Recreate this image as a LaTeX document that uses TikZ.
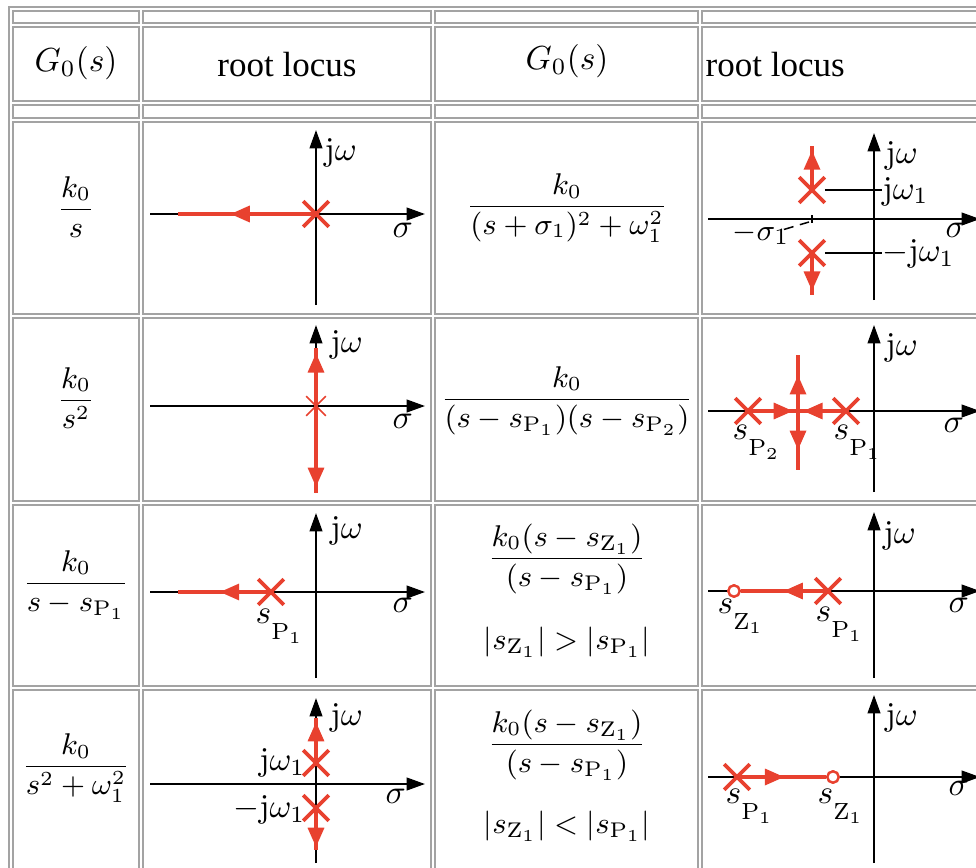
\documentclass[tikz,border=0pt]{standalone}
\usepackage{amsmath}
\usepackage{fontspec}
\usepackage{tikz}
\usetikzlibrary{arrows.meta, shapes.misc, decorations.markings, calc}
\newfontfamily\headfont{Liberation Serif}
\definecolor{locusred}{HTML}{E8412F}
\newcommand{\sP}[1]{s_{\mathrm{P}_{#1}}}
\newcommand{\sZ}[1]{s_{\mathrm{Z}_{#1}}}
% plot labels: index letter hangs below the s
\newcommand{\lblP}[1]{$s\raisebox{-5pt}{$\scriptstyle\mathrm{P}_{#1}$}$}
\newcommand{\lblZ}[1]{$s\raisebox{-5pt}{$\scriptstyle\mathrm{Z}_{#1}$}$}

\begin{document}
\begin{tikzpicture}[
  x=0.3pt, y=-0.3pt,
  font=\normalsize,
  cellbox/.style={draw=gray!72, line width=0.85pt},
  axis/.style={black, line width=0.6pt, -{Triangle[length=5.5pt,width=3.8pt]}},
  guide/.style={black, line width=0.45pt},
  locus/.style={locusred, line width=1pt},
  flow/.style={postaction={decorate}, decoration={markings,
      mark=at position #1 with {\arrow{Triangle[length=5.8pt,width=4.8pt]}}}},
  pole/.style={cross out, draw=locusred, line width=1.1pt,
      minimum size=6.6pt, inner sep=0pt},
  dblpole/.style={pole, line width=0.5pt, minimum size=5.4pt},
  zero/.style={circle, draw=locusred, fill=white, line width=0.7pt,
      minimum size=3.4pt, inner sep=0pt},
  axlbl/.style={inner sep=0pt},
  entry/.style={align=center, inner sep=0pt, font=\fontsize{9.1}{11}\selectfont},
  headmath/.style={inner sep=0pt},
  head/.style={font=\headfont\fontsize{10.5}{12}\selectfont, inner sep=0pt},
]
\useasboundingbox (0,0) rectangle (976,868);

% ---- geometry (pixel grid, 0.3pt per px) ----
\def\axL{316}   % imaginary axis, left root-locus column
\def\axR{874}   % imaginary axis, right root-locus column

% =====================================================
% TABLE GRID: outer frame plus one box per cell
% =====================================================
\draw[cellbox] (9,7) rectangle (1020,930);
\foreach \xa/\xb in {13/139, 143/431, 435/698, 702/1010}
  \foreach \ya/\yb in {11/23, 27/101, 105/118, 122/314, 318/501, 505/686, 690/920}
    \draw[cellbox] (\xa,\ya) rectangle (\xb,\yb);

% =====================================================
% HEADER ROW
% =====================================================
\node[headmath] (hdGa) at (76,63) {$G_0(s)$};
\node[head] (hdLa) at (287,65) {root locus};
\node[headmath] (hdGb) at (567,61) {$G_0(s)$};
\node[head, anchor=west] (hdLb) at (705,65) {root locus};

% =====================================================
% TRANSFER FUNCTIONS
% =====================================================
\node[entry] (gA) at (76,207) {$\dfrac{k_0}{s}$};
\node[entry] (gB) at (76,398) {$\dfrac{k_0}{s^2}$};
\node[entry] (gC) at (76,585) {$\dfrac{k_0}{s-\sP1}$};
\node[entry] (gD) at (76,768) {$\dfrac{k_0}{s^2+\omega_1^2}$};

\node[entry] (gE) at (567,208) {$\dfrac{k_0}{(s+\sigma_1)^2+\omega_1^2}$};
\node[entry] (gF) at (567,401) {$\dfrac{k_0}{(s-\sP1)(s-\sP2)}$};
\node[entry] (gG) at (567,559) {$\dfrac{k_0(s-\sZ1)}{(s-\sP1)}$};
\node[entry] (gGc) at (567,642) {$|\sZ1|>|\sP1|$};
\node[entry] (gH) at (567,745) {$\dfrac{k_0(s-\sZ1)}{(s-\sP1)}$};
\node[entry] (gHc) at (567,826) {$|\sZ1|<|\sP1|$};

% =====================================================
% ROW 1: single integrator | complex pole pair
% =====================================================
\draw[axis] (150,214) -- (425,214);
\draw[axis] (\axL,305) -- (\axL,130);
\node[axlbl, anchor=base west] (jwA) at (324,160) {$\mathrm{j}\omega$};
\node[axlbl, anchor=base west] (sgA) at (392,237) {$\sigma$};
\node[pole] (intpole) at (\axL,214) {};
\coordinate (intend) at (178,214);
\draw[locus, flow=0.62] (intpole.center) -- (intend);

\draw[axis] (708,219) -- (980,219);
\draw[axis] (\axR,300) -- (\axR,133);
\node[axlbl, anchor=base west] (jwB) at (885,163) {$\mathrm{j}\omega$};
\node[axlbl, anchor=base west] (sgB) at (945,237) {$\sigma$};
\node[pole] (cplxup) at (812,190) {};
\node[pole] (cplxdn) at (812,253) {};
\node[axlbl, anchor=base west] (wupl) at (882,199) {$\mathrm{j}\omega_1$};
\node[axlbl, anchor=base west] (wdnl) at (882,261) {$-\mathrm{j}\omega_1$};
\draw[guide] (cplxup.east) -- (wupl.west |- cplxup);
\draw[guide] (cplxdn.east) -- (wdnl.west |- cplxdn);
\draw[guide] (812,215) -- (812,223);
\node[axlbl, anchor=base west, font=\fontsize{9.3}{11}\selectfont] (sigone) at (732,240) {$-\sigma_1$};
\coordinate (sigtick) at (809,222);
\draw[guide, densely dashed] ($(sigone.east)+(-6,-4)$) -- (sigtick);
\coordinate (upend) at (812,146);
\coordinate (dnend) at (812,295);
\draw[locus, flow=0.9] (cplxup.center) -- (upend);
\draw[locus, flow=0.9] (cplxdn.center) -- (dnend);

% =====================================================
% ROW 2: double integrator | two real poles
% =====================================================
\draw[axis] (150,406) -- (425,406);
\draw[axis] (\axL,493) -- (\axL,325);
\node[axlbl, anchor=base west] (jwC) at (330,352) {$\mathrm{j}\omega$};
\node[axlbl, anchor=base west] (sgC) at (392,428) {$\sigma$};
\coordinate (dblup) at (\axL,348);
\coordinate (dbldn) at (\axL,493);
\node[dblpole] (dblpole) at (\axL,406) {};
\draw[locus, flow=0.91] (dblpole.center) -- (dblup);
\draw[locus, flow=0.93] (dblpole.center) -- (dbldn);

\draw[axis] (708,411) -- (980,411);
\draw[axis] (\axR,492) -- (\axR,325);
\node[axlbl, anchor=base west] (jwD) at (885,355) {$\mathrm{j}\omega$};
\node[axlbl, anchor=base west] (sgD) at (943,432) {$\sigma$};
\node[pole] (sptwo) at (748,411) {};
\node[pole] (spone) at (846,411) {};
\node[axlbl, anchor=north west] (sptwol) at (732,424) {\lblP2};
\node[axlbl, anchor=north west] (sponel) at (833,424) {\lblP1};
\coordinate (brk) at (798,411);
\coordinate (brkup) at (798,355);
\coordinate (brkdn) at (798,470);
\draw[locus, flow=0.9] (sptwo.center) -- (brk);
\draw[locus, flow=0.89] (spone.center) -- (brk);
\draw[locus, flow=0.64] (brk) -- (brkup);
\draw[locus, flow=0.66] (brk) -- (brkdn);

% =====================================================
% ROW 3: real pole | lag (zero left of pole)
% =====================================================
\draw[axis] (150,592) -- (425,592);
\draw[axis] (\axL,678) -- (\axL,513);
\node[axlbl, anchor=base west] (jwE) at (330,538) {$\mathrm{j}\omega$};
\node[axlbl, anchor=base west] (sgE) at (392,612) {$\sigma$};
\node[pole] (realpole) at (271,592) {};
\node[axlbl, anchor=north west] (realpolel) at (255,608) {\lblP1};
\coordinate (realend) at (178,592);
\draw[locus, flow=0.55] (realpole.center) -- (realend);

\draw[axis] (708,591) -- (980,591);
\draw[axis] (\axR,678) -- (\axR,512);
\node[axlbl, anchor=base west] (jwF) at (883,543) {$\mathrm{j}\omega$};
\node[axlbl, anchor=base west] (sgF) at (948,612) {$\sigma$};
\node[pole] (lagpole) at (828,591) {};
\node[zero] (lagzero) at (734,591) {};
\draw[locus, flow=0.51] (lagpole.center) -- (lagzero);
\node[zero] at (lagzero) {};
\node[axlbl, anchor=north west] (lagzerol) at (717,598) {\lblZ1};
\node[axlbl, anchor=north west] (lagpolel) at (815,606) {\lblP1};

% =====================================================
% ROW 4: undamped pair | lead (zero right of pole)
% =====================================================
\draw[axis] (150,784) -- (425,784);
\draw[axis] (\axL,863) -- (\axL,698);
\node[axlbl, anchor=base west] (jwG) at (330,725) {$\mathrm{j}\omega$};
\node[axlbl, anchor=base west] (sgG) at (385,803) {$\sigma$};
\node[pole] (oscup) at (\axL,763) {};
\node[pole] (oscdn) at (\axL,808) {};
\node[axlbl, anchor=base east] (oscupl) at (306,770) {$\mathrm{j}\omega_1$};
\node[axlbl, anchor=base east] (oscdnl) at (306,817) {$-\mathrm{j}\omega_1$};
\coordinate (oscupend) at (\axL,718);
\coordinate (oscdnend) at (\axL,850);
\draw[locus, flow=0.91] (oscup.center) -- (oscupend);
\draw[locus, flow=0.93] (oscdn.center) -- (oscdnend);

\draw[axis] (708,777) -- (980,777);
\draw[axis] (\axR,863) -- (\axR,695);
\node[axlbl, anchor=base west] (jwH) at (885,725) {$\mathrm{j}\omega$};
\node[axlbl, anchor=base west] (sgH) at (948,795) {$\sigma$};
\node[pole] (leadpole) at (737,777) {};
\node[zero] (leadzero) at (833,777) {};
\draw[locus, flow=0.53] (leadpole.center) -- (leadzero);
\node[zero] at (leadzero) {};
\node[axlbl, anchor=north west] (leadpolel) at (725,788) {\lblP1};
\node[axlbl, anchor=north west] (leadzerol) at (817,788) {\lblZ1};

\end{tikzpicture}
\end{document}
